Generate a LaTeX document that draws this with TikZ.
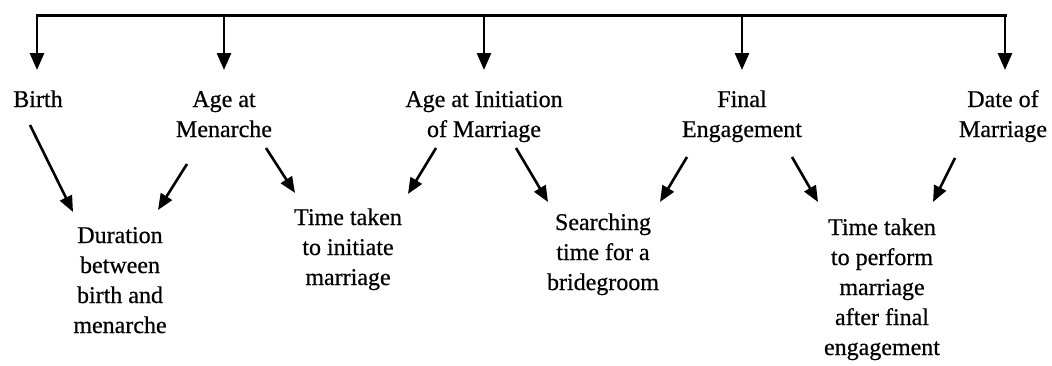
\documentclass[tikz,border=0pt]{standalone}
\usepackage{fontspec}
\setmainfont{Liberation Serif}
\newfontfamily\lblfont{Liberation Serif}[FakeBold=0.6]
\usetikzlibrary{arrows.meta}
\begin{document}
\begin{tikzpicture}[x=1pt,y=-1pt,
  lbl/.style={inner sep=0pt,anchor=base,align=center,font=\lblfont\fontsize{24}{30}\selectfont},
  bar/.style={line width=3pt},
  arr/.style={line width=2.8pt,-{Triangle[width=14pt,length=17pt]}},
  darr/.style={line width=2.6pt,-{Triangle[width=13pt,length=16pt]}}]
\useasboundingbox (0,0) rectangle (1052,365);
% top row (anchor base = baseline of last line)
\node[lbl] (birth) at (38,107) {Birth};
\node[lbl] (men)   at (224,137) {Age at\\Menarche};
\node[lbl] (init)  at (484,137) {Age at Initiation\\of Marriage};
\node[lbl] (eng)   at (742,137) {Final\\Engagement};
\node[lbl] (dom)   at (1003,137) {Date of\\Marriage};
% bottom row
\node[lbl] (dur)   at (120,333) {Duration\\between\\birth and\\menarche};
\node[lbl] (tt1)   at (348,285) {Time taken\\to initiate\\marriage};
\node[lbl] (srch)  at (603,290) {Searching\\time for a\\bridegroom};
\node[lbl] (tt2)   at (882,355) {Time taken\\to perform\\marriage\\after final\\engagement};
% top bar
\coordinate (tl) at (37,15);
\coordinate (tr) at (1005,15);
\coordinate (tip) at (0,70);
\draw[bar,line cap=rect] (tl) -- (tr);
\draw[arr] (tl) -- (tl |- tip);
\draw[arr] (tr) -- (tr |- tip);
\foreach \n in {men,init,eng}{
  \draw[arr] (\n.base |- tl) -- (\n.base |- tip);
}
% diagonal arrows
\draw[darr] ([shift={(-8,18)}]birth.base) -- ([shift={(-47,-121)}]dur.base);
\draw[darr] ([shift={(-37,27)}]men.base) -- ([shift={(38,-123)}]dur.base);
\draw[darr] ([shift={(42,11)}]men.base) -- ([shift={(-53,-92)}]tt1.base);
\draw[darr] ([shift={(-48,11)}]init.base) -- ([shift={(60,-91)}]tt1.base);
\draw[darr] ([shift={(32,11)}]init.base) -- ([shift={(-55,-88)}]srch.base);
\draw[darr] ([shift={(-55,20)}]eng.base) -- ([shift={(57,-88)}]srch.base);
\draw[darr] ([shift={(50,20)}]eng.base) -- ([shift={(-64,-153)}]tt2.base);
\draw[darr] ([shift={(-48,21)}]dom.base) -- ([shift={(51,-153)}]tt2.base);
\end{tikzpicture}
\end{document}
